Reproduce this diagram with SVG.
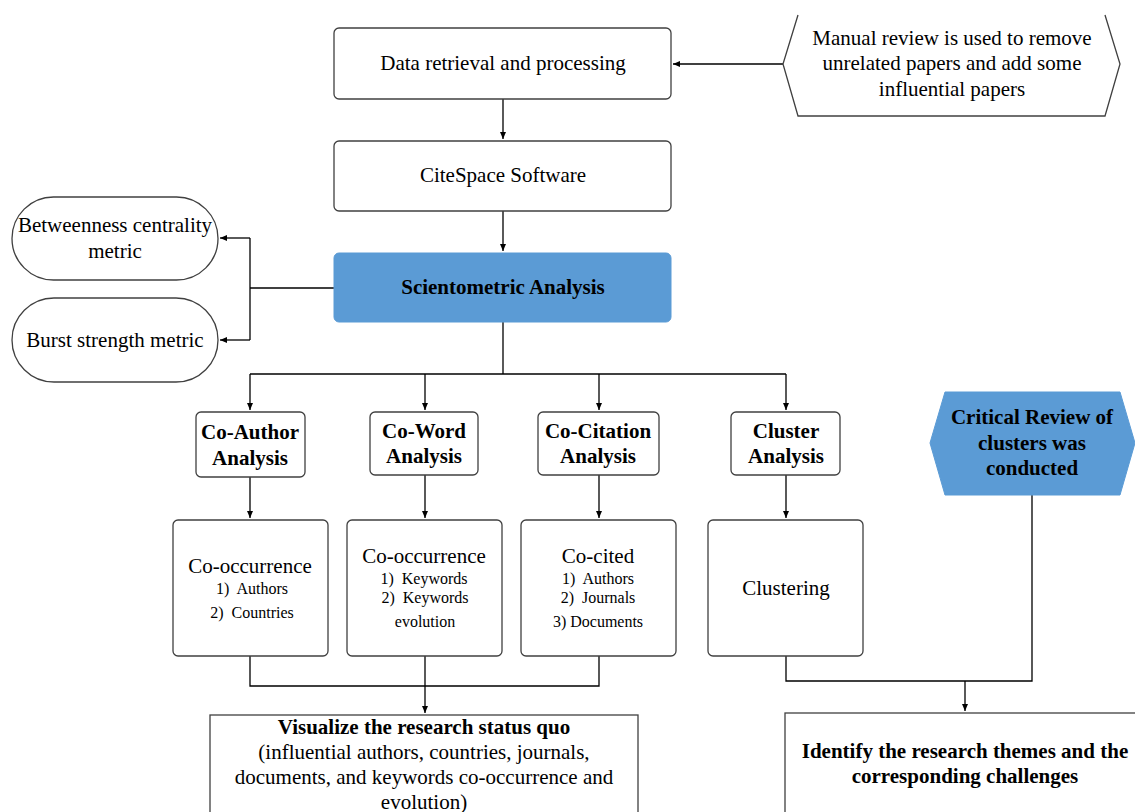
<svg xmlns="http://www.w3.org/2000/svg" width="1135" height="812" viewBox="0 0 1135 812">
<defs>
<marker id="arr" markerWidth="8" markerHeight="8" refX="7" refY="4" orient="auto" markerUnits="userSpaceOnUse">
<path d="M0,1 L7,4 L0,7 Z" fill="#000"/>
</marker>
<style>
.box{fill:#fff;stroke:#404040;stroke-width:1.3}
.blue{fill:#5B9BD5;stroke:#5B9BD5;stroke-width:1}
.t{font-family:"Liberation Serif","Times New Roman",serif;fill:#000;text-anchor:middle}
.n{font-size:21px}
.b{font-size:21px;font-weight:bold}
.s{font-size:16px}
.c{fill:none;stroke:#000;stroke-width:1.3}
</style>
</defs>
<rect width="1135" height="812" fill="#fff"/>

<g id="connectors">
<path class="c" d="M783,64 L673,64" marker-end="url(#arr)"/>
<path class="c" d="M503,99 L503,139" marker-end="url(#arr)"/>
<path class="c" d="M503,211 L503,251" marker-end="url(#arr)"/>
<path class="c" d="M334,288 L250,288"/>
<path class="c" d="M250,238 L250,340"/>
<path class="c" d="M250,238 L220,238" marker-end="url(#arr)"/>
<path class="c" d="M250,340 L220,340" marker-end="url(#arr)"/>
<path class="c" d="M503,322 L503,374"/>
<path class="c" d="M250,374 L786,374"/>
<path class="c" d="M250,374 L250,410" marker-end="url(#arr)"/>
<path class="c" d="M425,374 L425,410" marker-end="url(#arr)"/>
<path class="c" d="M599,374 L599,410" marker-end="url(#arr)"/>
<path class="c" d="M786,374 L786,410" marker-end="url(#arr)"/>
<path class="c" d="M250,477 L250,518" marker-end="url(#arr)"/>
<path class="c" d="M425,475 L425,518" marker-end="url(#arr)"/>
<path class="c" d="M599,475 L599,518" marker-end="url(#arr)"/>
<path class="c" d="M786,475 L786,518" marker-end="url(#arr)"/>
<path class="c" d="M250,656 L250,686 L599,686 L599,656"/>
<path class="c" d="M425,656 L425,713" marker-end="url(#arr)"/>
<path class="c" d="M786,656 L786,681 L1032,681 L1032,495"/>
<path class="c" d="M965,681 L965,711" marker-end="url(#arr)"/>
</g>

<g id="manual-review">
<path d="M798,15 L783,64 L798,116 L1105,116 L1120,64 L1105,15" fill="#fff" stroke="#404040" stroke-width="1.3"/>
<text class="t n" x="952" y="45">Manual review is used to remove</text>
<text class="t n" x="952" y="70">unrelated papers and add some</text>
<text class="t n" x="952" y="96">influential papers</text>
</g>

<g id="data-retrieval">
<rect class="box" x="334" y="28" width="337" height="71" rx="5"/>
<text class="t n" x="503" y="70">Data retrieval and processing</text>
</g>

<g id="citespace">
<rect class="box" x="334" y="141" width="337" height="70" rx="5"/>
<text class="t n" x="503" y="182">CiteSpace Software</text>
</g>

<g id="scientometric">
<rect class="blue" x="334" y="253" width="337" height="69" rx="5"/>
<text class="t b" x="503" y="294">Scientometric Analysis</text>
</g>

<g id="betweenness">
<rect class="box" x="12" y="197" width="206" height="83" rx="41.5"/>
<text class="t n" x="115" y="232">Betweenness centrality</text>
<text class="t n" x="115" y="258">metric</text>
</g>

<g id="burst">
<rect class="box" x="12" y="298" width="206" height="84" rx="42"/>
<text class="t n" x="115" y="347">Burst strength metric</text>
</g>

<g id="co-author">
<rect class="box" x="196" y="412" width="109" height="65" rx="5"/>
<text class="t b" x="250" y="439">Co-Author</text>
<text class="t b" x="250" y="465">Analysis</text>
</g>

<g id="co-word">
<rect class="box" x="370" y="412" width="108" height="63" rx="5"/>
<text class="t b" x="424" y="438">Co-Word</text>
<text class="t b" x="424" y="463">Analysis</text>
</g>

<g id="co-citation">
<rect class="box" x="538" y="412" width="121" height="63" rx="5"/>
<text class="t b" x="598" y="438">Co-Citation</text>
<text class="t b" x="598" y="463">Analysis</text>
</g>

<g id="cluster">
<rect class="box" x="731" y="412" width="109" height="63" rx="5"/>
<text class="t b" x="786" y="438">Cluster</text>
<text class="t b" x="786" y="463">Analysis</text>
</g>

<g id="co-occurrence-authors">
<rect class="box" x="173" y="520" width="155" height="136" rx="5"/>
<text class="t n" x="250" y="573">Co-occurrence</text>
<text class="t s" x="252" y="594" xml:space="preserve">1)  Authors</text>
<text class="t s" x="252" y="618" xml:space="preserve">2)  Countries</text>
</g>

<g id="co-occurrence-keywords">
<rect class="box" x="347" y="520" width="155" height="136" rx="5"/>
<text class="t n" x="424" y="563">Co-occurrence</text>
<text class="t s" x="424" y="584" xml:space="preserve">1)  Keywords</text>
<text class="t s" x="425" y="603" xml:space="preserve">2)  Keywords</text>
<text class="t s" x="425" y="627">evolution</text>
</g>

<g id="co-cited">
<rect class="box" x="521" y="520" width="155" height="136" rx="5"/>
<text class="t n" x="598" y="563">Co-cited</text>
<text class="t s" x="598" y="584" xml:space="preserve">1)  Authors</text>
<text class="t s" x="598" y="603" xml:space="preserve">2)  Journals</text>
<text class="t s" x="598" y="627">3) Documents</text>
</g>

<g id="clustering">
<rect class="box" x="708" y="520" width="155" height="136" rx="5"/>
<text class="t n" x="786" y="595">Clustering</text>
</g>

<g id="critical-review">
<path class="blue" d="M945,392 L1120,392 L1135,443 L1120,495 L945,495 L930,443 Z"/>
<text class="t b" x="1032" y="424">Critical Review of</text>
<text class="t b" x="1032" y="450">clusters was</text>
<text class="t b" x="1032" y="475">conducted</text>
</g>

<g id="visualize">
<rect x="210" y="715" width="428" height="110" fill="#fff" stroke="#404040" stroke-width="1.3"/>
<text class="t b" x="424" y="734">Visualize the research status quo</text>
<text class="t n" x="424" y="759">(influential authors, countries, journals,</text>
<text class="t n" x="424" y="784">documents, and keywords co-occurrence and</text>
<text class="t n" x="424" y="809">evolution)</text>
</g>

<g id="identify">
<rect x="785" y="713" width="380" height="120" fill="#fff" stroke="#404040" stroke-width="1.3"/>
<text class="t b" x="965" y="758">Identify the research themes and the</text>
<text class="t b" x="965" y="783">corresponding challenges</text>
</g>
</svg>
